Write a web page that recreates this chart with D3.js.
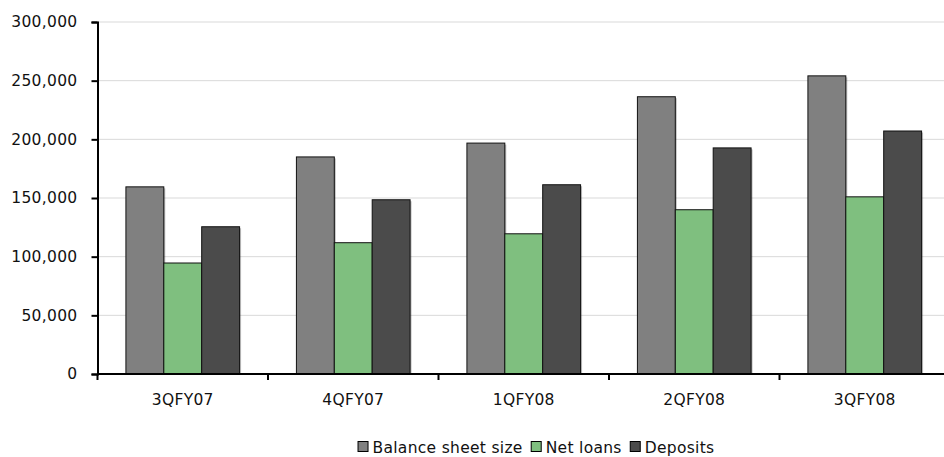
<!DOCTYPE html>
<html>
<head>
<meta charset="utf-8">
<script src="https://cdn.jsdelivr.net/npm/d3@7/dist/d3.min.js"></script>
<style>
  html, body { margin: 0; padding: 0; background: #fff; }
  svg { display: block; font-family: "DejaVu Sans", Verdana, sans-serif; }
  .lbl { font-size: 15.5px; letter-spacing: 0.3px; fill: #111; }
</style>
</head>
<body>
<svg id="chart" width="944" height="457"></svg>
<script>
// Quarterly figures (in thousands)
const categories = ["3QFY07", "4QFY07", "1QFY08", "2QFY08", "3QFY08"];
const seriesNames = ["Balance sheet size", "Net loans", "Deposits"];
const balanceSheet = [159500, 185000, 196800, 236300, 254100];
const netLoans = [94600, 111900, 119500, 140000, 151000];
const deposits = [125500, 148500, 161300, 192700, 207100];
const yTicks = [0, 50000, 100000, 150000, 200000, 250000, 300000];
const seriesColors = ["#808080", "#7fbf7f", "#4b4b4b"];

const seriesValues = [balanceSheet, netLoans, deposits];

const svg = d3.select("#chart");
const margin = { left: 97.5, right: -6, top: 22, bottom: 83 };
const width = 944 - margin.left - margin.right;
const height = 457 - margin.top - margin.bottom;

const g = svg.append("g").attr("transform", `translate(${margin.left},${margin.top})`);

const x0 = d3.scaleBand().domain(categories).range([0, width]).paddingInner(0).paddingOuter(0);
// 150% gap between groups: band = 4.5 bar widths
const barW = x0.bandwidth() / 4.5;
const groupOffset = (x0.bandwidth() - 3 * barW) / 2;

const y = d3.scaleLinear().domain([0, 300000]).range([height, 0]);

// gridlines
g.append("g")
  .selectAll("line")
  .data(yTicks.filter(t => t > 0))
  .join("line")
  .attr("x1", 0).attr("x2", width)
  .attr("y1", d => y(d)).attr("y2", d => y(d))
  .attr("stroke", "#d9d9d9").attr("stroke-width", 1);

// bars
const rows = categories.map((c, i) => ({ cat: c, vals: seriesValues.map(s => s[i]) }));
const groups = g.selectAll("g.grp").data(rows).join("g")
  .attr("class", "grp")
  .attr("transform", d => `translate(${x0(d.cat) + groupOffset},0)`);

// soft drop shadow
groups.selectAll("rect.shadow").data(d => d.vals).join("rect")
  .attr("class", "shadow")
  .attr("x", (d, i) => i * barW + 1.5)
  .attr("y", d => y(d) + 1.5)
  .attr("width", barW)
  .attr("height", d => height - y(d) - 1.5)
  .attr("fill", "#000").attr("opacity", 0.25);

groups.selectAll("rect.bar").data(d => d.vals).join("rect")
  .attr("class", "bar")
  .attr("x", (d, i) => i * barW)
  .attr("y", d => y(d))
  .attr("width", barW)
  .attr("height", d => height - y(d))
  .attr("fill", (d, i) => seriesColors[i])
  .attr("stroke", "#111").attr("stroke-width", 1);

// y axis
const yAxis = g.append("g")
  .call(d3.axisLeft(y).tickValues(yTicks).tickSize(6).tickPadding(14)
    .tickFormat(d3.format(",")));
yAxis.select(".domain").attr("stroke", "#000").attr("stroke-width", 2);
yAxis.selectAll(".tick line").attr("stroke", "#000").attr("stroke-width", 2);
yAxis.selectAll("text").attr("class", "lbl")
  .attr("font-family", "DejaVu Sans, Verdana, sans-serif");

// x axis with ticks between categories
const xAxisG = g.append("g").attr("transform", `translate(0,${height})`);
xAxisG.append("line").attr("x1", 0).attr("x2", width).attr("stroke", "#000").attr("stroke-width", 2);
xAxisG.selectAll("line.tk").data(categories).join("line")
  .attr("class", "tk")
  .attr("x1", d => x0(d)).attr("x2", d => x0(d))
  .attr("y1", 0).attr("y2", 6)
  .attr("stroke", "#000").attr("stroke-width", 2);
xAxisG.selectAll("text").data(categories).join("text")
  .attr("class", "lbl")
  .attr("x", d => x0(d) + x0.bandwidth() / 2)
  .attr("y", 30.5)
  .attr("text-anchor", "middle")
  .text(d => d);

// legend: swatch + label, laid out left to right and centred
const legend = svg.append("g");
const items = legend.selectAll("g").data(seriesNames).join("g");
items.append("rect")
  .attr("x", 0.5).attr("y", -11.5).attr("width", 10).attr("height", 10)
  .attr("fill", (d, i) => seriesColors[i]).attr("stroke", "#000").attr("stroke-width", 1);
items.append("text")
  .attr("class", "lbl")
  .attr("x", 15).attr("y", 0)
  .text(d => d);
let cursor = 0;
items.each(function () {
  const w = this.querySelector("text").getComputedTextLength();
  d3.select(this).attr("transform", `translate(${cursor},0)`);
  cursor += 15 + w + 8;
});
const legendW = cursor - 8;
legend.attr("transform", `translate(${536 - legendW / 2},453)`);
</script>
</body>
</html>
